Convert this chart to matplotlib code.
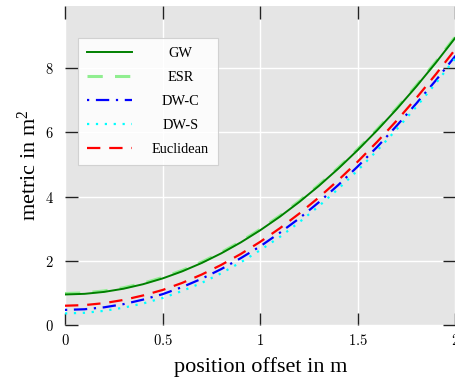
import numpy as np
import matplotlib
matplotlib.use("Agg")
import matplotlib.pyplot as plt

# position offset (m) and the metric value of each method (m^2)
offset = [0.0, 0.1, 0.2, 0.3, 0.4, 0.5, 0.6, 0.7, 0.8, 0.9, 1.0,
          1.1, 1.2, 1.3, 1.4, 1.5, 1.6, 1.7, 1.8, 1.9, 2.0]
gw = [0.95, 0.97, 1.03, 1.13, 1.27, 1.45, 1.67, 1.93, 2.23, 2.57, 2.95,
      3.37, 3.83, 4.33, 4.87, 5.45, 6.07, 6.73, 7.43, 8.17, 8.95]
esr = [0.98, 1.00, 1.06, 1.16, 1.30, 1.48, 1.70, 1.96, 2.26, 2.60, 2.98,
       3.40, 3.86, 4.36, 4.90, 5.48, 6.10, 6.76, 7.46, 8.20, 8.98]
dw_c = [0.47, 0.49, 0.55, 0.65, 0.79, 0.96, 1.18, 1.44, 1.74, 2.08, 2.45,
        2.87, 3.32, 3.82, 4.36, 4.94, 5.55, 6.21, 6.90, 7.62, 8.38]
dw_s = [0.36, 0.38, 0.44, 0.54, 0.67, 0.84, 1.06, 1.31, 1.61, 1.95, 2.33,
        2.74, 3.20, 3.70, 4.24, 4.82, 5.44, 6.10, 6.80, 7.53, 8.31]
euclid = [0.60, 0.62, 0.68, 0.78, 0.92, 1.09, 1.31, 1.57, 1.87, 2.21, 2.59,
          3.01, 3.47, 3.97, 4.51, 5.09, 5.71, 6.37, 7.07, 7.81, 8.59]

xticks = [0, 0.5, 1, 1.5, 2]
xticklabels = ["0", "0.5", "1", "1.5", "2"]
yticks = [0, 2, 4, 6, 8]
yticklabels = ["0", "2", "4", "6", "8"]

plt.rcParams["mathtext.fontset"] = "cm"
plt.rcParams["font.family"] = ["Liberation Serif", "DejaVu Serif"]

fig = plt.figure(figsize=(4.56, 3.83), dpi=100)
ax = fig.add_axes([65 / 456, 58 / 383, 390.5 / 456, 319 / 383])
ax.set_facecolor("#e5e5e5")
ax.grid(True, color="white", linewidth=1.0)
ax.set_axisbelow(True)
for s in ax.spines.values():
    s.set_visible(False)

ax.plot(offset, esr, color="#90ee90", linestyle=(0, (5, 4)), linewidth=2.2, label="ESR", zorder=2)
ax.plot(offset, gw, color="green", linestyle="-", linewidth=1.4, label="GW", zorder=3)
ax.plot(offset, dw_c, color="blue", linestyle=(0, (1, 3, 6, 3)), linewidth=1.6, label="DW-C", zorder=3)
ax.plot(offset, dw_s, color="cyan", linestyle=(0, (1, 3)), linewidth=1.6, label="DW-S", zorder=3)
ax.plot(offset, euclid, color="red", linestyle=(0, (6, 4)), linewidth=1.6, label="Euclidean", zorder=4)

ax.set_xlim(0, 2)
ax.set_ylim(0, 9.93)
ax.set_xticks(xticks)
ax.set_xticklabels(["$" + t + "$" for t in xticklabels])
ax.set_yticks(yticks)
ax.set_yticklabels(["$" + t + "$" for t in yticklabels])
ax.tick_params(direction="in", length=9, width=1.0, color="#222222",
               top=True, right=True, labelsize=10.5, pad=6)
ax.tick_params(axis="y", pad=8)

ax.set_xlabel("position offset in m", fontsize=16, labelpad=6)
ax.set_ylabel("metric in $\\mathregular{m^2}$", fontsize=16, labelpad=3)

handles, labels = ax.get_legend_handles_labels()
order = ["GW", "ESR", "DW-C", "DW-S", "Euclidean"]
hmap = dict(zip(labels, handles))
leg = ax.legend([hmap[k] for k in order], order, loc="upper left",
                bbox_to_anchor=(0.033, 0.9), borderaxespad=0.0,
                fontsize=10.4, handlelength=3.1,
                frameon=True, fancybox=False, framealpha=0.85,
                edgecolor="#cccccc", borderpad=0.62, labelspacing=0.75,
                handletextpad=1.4)
leg.get_frame().set_linewidth(0.8)

# center the legend labels within their column
fig.canvas.draw()
renderer = fig.canvas.get_renderer()
texts = leg.get_texts()
widths = [t.get_window_extent(renderer).width for t in texts]
maxw = max(widths)
for t, w in zip(texts, widths):
    t.set_position(((maxw - w) / 2, 0))

fig.savefig("out.png", dpi=100)
